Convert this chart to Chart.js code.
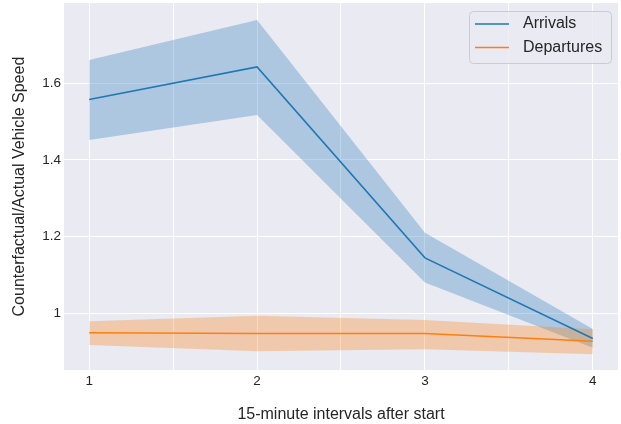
<!DOCTYPE html>
<html>
<head>
<meta charset="utf-8">
<script src="https://cdn.jsdelivr.net/npm/chart.js@4/dist/chart.umd.min.js"></script>
<style>
  html, body { margin: 0; padding: 0; background: #fff; }
  canvas { display: block; }
</style>
</head>
<body>
<canvas id="chart" width="621" height="424"></canvas>
<script>
// interval index on the x axis
const intervals = [1, 2, 3, 4];

// arrivals: mean line and confidence band
const arrivalsMean  = [1.557, 1.642, 1.145, 0.935];
const arrivalsUpper = [1.660, 1.764, 1.210, 0.960];
const arrivalsLower = [1.452, 1.517, 1.081, 0.911];

// departures: mean line and confidence band
const departuresMean  = [0.950, 0.948, 0.948, 0.928];
const departuresUpper = [0.980, 0.994, 0.983, 0.959];
const departuresLower = [0.918, 0.902, 0.907, 0.894];

const xTicks = [1, 1.5, 2, 2.5, 3, 3.5, 4];
const yTicks = [1, 1.2, 1.4, 1.6];

const BLUE = '#1f77b4', ORANGE = '#ff7f0e';
const FONT = '"Liberation Sans", Arial, Helvetica, sans-serif';

const pts = arr => arr.map((v, i) => ({x: intervals[i], y: v}));

function band(vals, color, fill, order) {
  return {
    data: pts(vals), borderWidth: 0, pointRadius: 0,
    backgroundColor: color, borderColor: color,
    fill: fill, order: order, tension: 0
  };
}
function line(label, vals, color, order) {
  return {
    label: label, data: pts(vals), borderColor: color, borderWidth: 1.5,
    pointRadius: 0, fill: false, order: order, tension: 0
  };
}

const plotBg = {
  id: 'plotBg',
  beforeDraw(chart) {
    const {ctx, chartArea: a} = chart;
    ctx.save();
    ctx.fillStyle = '#eaeaf2';
    ctx.fillRect(a.left, a.top, a.right - a.left, a.bottom - a.top);
    ctx.restore();
  }
};

const boxLegend = {
  id: 'boxLegend',
  afterDraw(chart) {
    const ctx = chart.ctx;
    ctx.save();
    ctx.beginPath();
    ctx.roundRect(469.5, 11.5, 142, 52, 4);
    ctx.fillStyle = 'rgba(234,234,242,0.8)';
    ctx.fill();
    ctx.strokeStyle = '#cccccc';
    ctx.lineWidth = 1;
    ctx.stroke();
    const items = [['Arrivals', BLUE, 24], ['Departures', ORANGE, 47.5]];
    ctx.font = '16px ' + FONT;
    ctx.textBaseline = 'middle';
    for (const [txt, col, y] of items) {
      ctx.beginPath();
      ctx.moveTo(475, y); ctx.lineTo(509, y);
      ctx.strokeStyle = col; ctx.lineWidth = 1.5;
      ctx.stroke();
      ctx.fillStyle = '#262626';
      ctx.fillText(txt, 523, y);
    }
    ctx.restore();
  }
};

new Chart(document.getElementById('chart'), {
  type: 'line',
  data: {
    datasets: [
      band(arrivalsUpper, 'rgba(31,119,180,0.3)', '+1', 4),
      band(arrivalsLower, 'rgba(31,119,180,0.3)', false, 4),
      band(departuresUpper, 'rgba(255,127,14,0.3)', '+1', 3),
      band(departuresLower, 'rgba(255,127,14,0.3)', false, 3),
      line('Arrivals', arrivalsMean, BLUE, 2),
      line('Departures', departuresMean, ORANGE, 1)
    ]
  },
  options: {
    responsive: false,
    animation: false,
    devicePixelRatio: 1,
    layout: { padding: { top: 3, right: 3, left: 0, bottom: 0 } },
    plugins: { legend: { display: false }, tooltip: { enabled: false } },
    scales: {
      x: {
        type: 'linear', min: 0.85, max: 4.15,
        afterFit: s => { s.height = 54; },
        afterBuildTicks: s => { s.ticks = xTicks.map(v => ({value: v})); },
        border: { display: false },
        grid: { color: '#ffffff', lineWidth: 1, drawTicks: false },
        ticks: {
          padding: 3, color: '#262626', font: { family: FONT, size: 13.5 },
          maxRotation: 0, autoSkip: false,
          callback: v => Number.isInteger(v) ? String(v) : ''
        },
        title: {
          display: true, text: '15-minute intervals after start', color: '#262626',
          font: { family: FONT, size: 16 }, padding: { top: 5, bottom: 0 }
        }
      },
      y: {
        type: 'linear', min: 0.853, max: 1.808,
        afterFit: s => { s.width = 64; },
        afterBuildTicks: s => { s.ticks = yTicks.map(v => ({value: v})); },
        border: { display: false },
        grid: { color: '#ffffff', lineWidth: 1, drawTicks: false },
        ticks: {
          padding: 3, color: '#262626', font: { family: FONT, size: 13.5, lineHeight: 0.02 },
          callback: v => v === 1 ? '1' : v.toFixed(1)
        },
        title: {
          display: true, text: 'Counterfactual/Actual Vehicle Speed', color: '#262626',
          font: { family: FONT, size: 16 }, padding: { top: 10, bottom: 0 }
        }
      }
    }
  },
  plugins: [plotBg, boxLegend]
});
</script>
</body>
</html>
